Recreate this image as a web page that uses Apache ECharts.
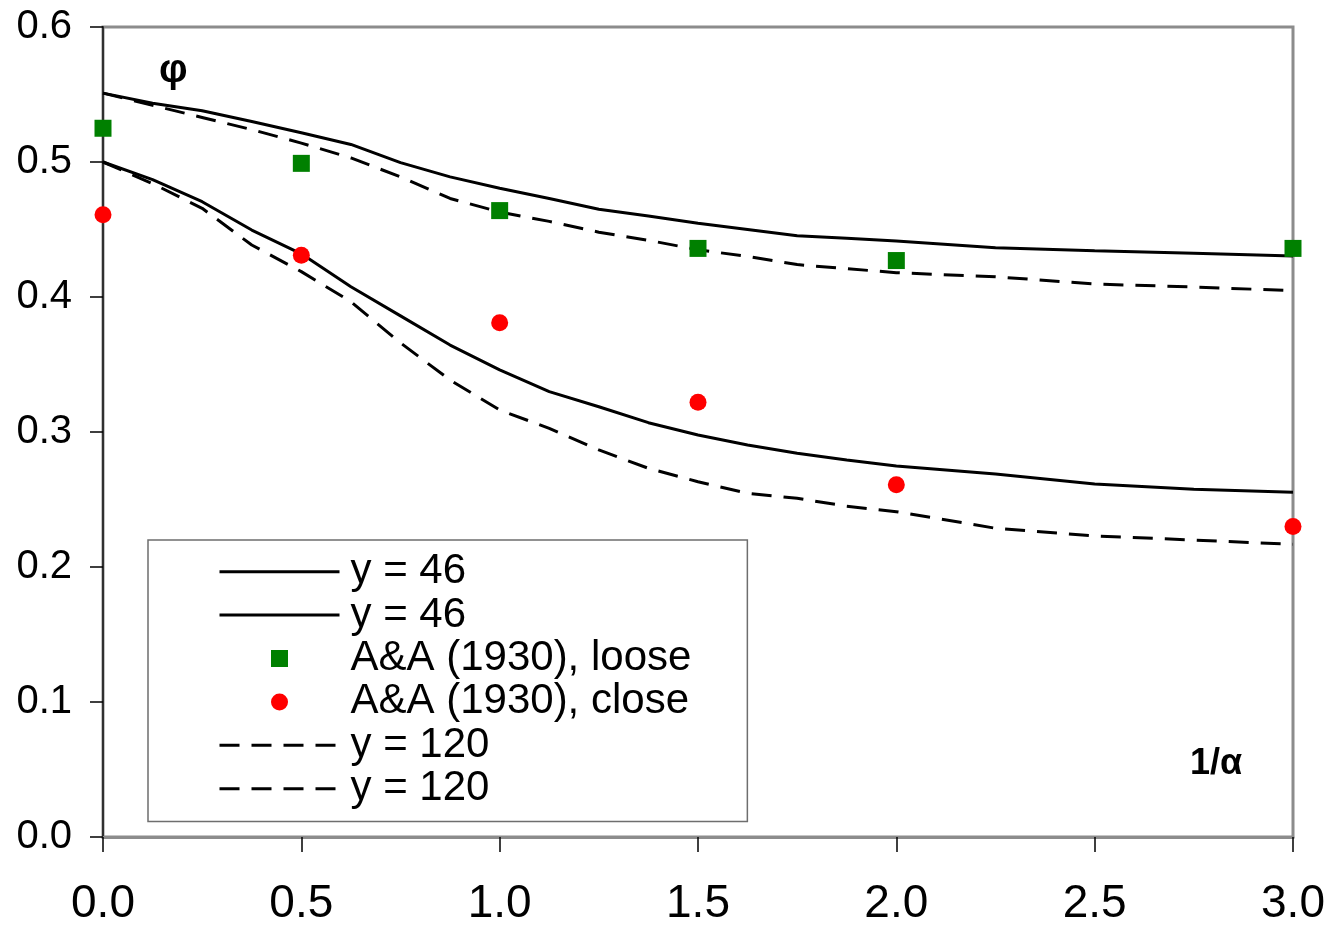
<!DOCTYPE html>
<html>
<head>
<meta charset="utf-8">
<title>φ versus 1/α</title>
<script src="https://cdn.jsdelivr.net/npm/echarts@6/dist/echarts.min.js"></script>
<style>
  html, body { margin: 0; padding: 0; background: #fff; }
  #chart { width: 1330px; height: 928px; }
</style>
</head>
<body>
<div id="chart"></div>
<script>
// Abscissa (1/α) at which the computed curves are sampled
const curveX = [0, 0.125, 0.25, 0.375, 0.5, 0.625, 0.75, 0.875, 1.0, 1.125, 1.25,
                1.375, 1.5, 1.625, 1.75, 1.875, 2.0, 2.25, 2.5, 2.75, 3.0];

// Computed φ, loose packing
const looseY46  = [0.551, 0.5435, 0.538, 0.530, 0.5217, 0.513, 0.4995, 0.489, 0.4805, 0.473, 0.465,
                   0.460, 0.4546, 0.450, 0.4454, 0.4435, 0.4415, 0.4365, 0.4343, 0.4324, 0.4304];
const looseY120 = [0.551, 0.542, 0.533, 0.524, 0.514, 0.503, 0.489, 0.473, 0.463, 0.456, 0.448,
                   0.442, 0.435, 0.430, 0.424, 0.421, 0.418, 0.415, 0.4096, 0.4074, 0.4047];

// Computed φ, close packing
const closeY46  = [0.500, 0.487, 0.4706, 0.4496, 0.432, 0.4076, 0.386, 0.3644, 0.346, 0.3299, 0.3187,
                   0.3069, 0.2978, 0.2904, 0.2842, 0.2793, 0.2748, 0.2689, 0.2615, 0.2576, 0.2553];
const closeY120 = [0.500, 0.484, 0.4657, 0.4385, 0.4188, 0.3965, 0.366, 0.3385, 0.3163, 0.3027, 0.2867,
                   0.2731, 0.2632, 0.2546, 0.2509, 0.245, 0.241, 0.2287, 0.2230, 0.2200, 0.2168];

// Measurements, A&A (1930)
const measX      = [0, 0.5, 1.0, 1.5, 2.0, 3.0];
const measLoose  = [0.525, 0.499, 0.464, 0.436, 0.427, 0.436];
const measClose  = [0.461, 0.431, 0.381, 0.322, 0.261, 0.230];

// Tick labels
const xTicks = ['0.0', '0.5', '1.0', '1.5', '2.0', '2.5', '3.0'];
const yTicks = ['0.0', '0.1', '0.2', '0.3', '0.4', '0.5', '0.6'];

const pairs = (xs, ys) => xs.map((x, i) => [x, ys[i]]);
const FONT = '"Liberation Sans", Arial, sans-serif';
const SQUARE = 'path://M0 0H10V10H0Z';

const chart = echarts.init(document.getElementById('chart'), null, { renderer: 'canvas' });

const lineSeries = (name, ys, type, width) => ({
  name: name,
  type: 'line',
  data: pairs(curveX, ys),
  symbol: 'none',
  showSymbol: false,
  smooth: false,
  itemStyle: { color: '#000' },
  lineStyle: { color: '#000', width: width, type: type },
  z: 2
});

const dash = [20, 12];
const lineLegend = (name, type) => ({
  name: name,
  itemStyle: { color: 'rgba(0,0,0,0)', borderWidth: 0 },
  lineStyle: { color: '#000', width: 3, type: type }
});

chart.setOption({
  animation: false,
  backgroundColor: '#fff',
  grid: {
    left: 103, right: 37, top: 27, bottom: 91,
    show: true, borderColor: '#8c8c8c', borderWidth: 3, backgroundColor: 'transparent'
  },
  xAxis: {
    type: 'value',
    min: 0, max: 3, interval: 0.5,
    axisLine: { show: true, lineStyle: { color: '#8c8c8c', width: 3 } },
    axisTick: { show: true, inside: false, length: 15, lineStyle: { color: '#000', width: 1.5 } },
    splitLine: { show: false },
    axisLabel: {
      margin: 44,
      fontSize: 46, fontFamily: FONT, color: '#000',
      formatter: v => xTicks[Math.round(v / 0.5)]
    }
  },
  yAxis: {
    type: 'value',
    min: 0, max: 0.6, interval: 0.1,
    axisLine: { show: true, lineStyle: { color: '#303030', width: 2 } },
    axisTick: { show: true, inside: false, length: 13, lineStyle: { color: '#000', width: 1.5 } },
    splitLine: { show: false },
    axisLabel: {
      margin: 31,
      fontSize: 40, fontFamily: FONT, color: '#000',
      formatter: v => yTicks[Math.round(v / 0.1)]
    }
  },
  legend: {
    orient: 'vertical',
    left: 148, top: 540,
    padding: [10, 56, 11, 70],
    backgroundColor: '#fff',
    borderColor: '#6e6e6e', borderWidth: 1.5,
    itemWidth: 120, itemHeight: 17, itemGap: 0,
    symbolKeepAspect: true,
    lineStyle: { width: 3 },
    textStyle: {
      fontSize: 42, fontFamily: FONT, color: '#000', lineHeight: 43.4,
      padding: [0, 0, 0, 6]
    },
    formatter: name => name.replace(/^(loose|close), /, ''),
    data: [lineLegend('loose, y = 46', 'solid'), lineLegend('close, y = 46', 'solid'),
           'A&A (1930), loose', 'A&A (1930), close',
           lineLegend('loose, y = 120', dash), lineLegend('close, y = 120', dash)]
  },
  graphic: [
    { type: 'text', left: 159, top: 51,
      style: { text: 'φ', fontSize: 40, fontWeight: 'bold', fontFamily: FONT, fill: '#000' } },
    { type: 'text', left: 1190, top: 746,
      style: { text: '1/α', fontSize: 36, fontWeight: 'bold', fontFamily: FONT, fill: '#000' } }
  ],
  series: [
    lineSeries('loose, y = 46', looseY46, 'solid', 3),
    lineSeries('close, y = 46', closeY46, 'solid', 3),
    {
      name: 'A&A (1930), loose',
      type: 'scatter',
      data: pairs(measX, measLoose),
      symbol: SQUARE, symbolSize: 17,
      itemStyle: { color: '#008000', opacity: 1 },
      z: 5
    },
    {
      name: 'A&A (1930), close',
      type: 'scatter',
      data: pairs(measX, measClose),
      symbol: 'circle', symbolSize: 17,
      itemStyle: { color: '#ff0000', opacity: 1 },
      z: 5
    },
    lineSeries('loose, y = 120', looseY120, dash, 3),
    lineSeries('close, y = 120', closeY120, dash, 3)
  ]
});
</script>
</body>
</html>
